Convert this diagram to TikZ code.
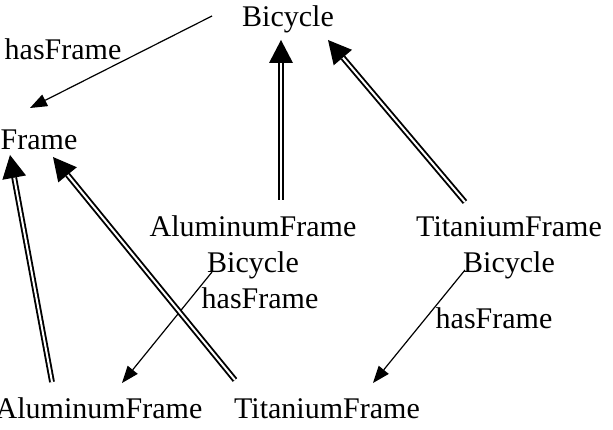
\documentclass[tikz,border=0pt]{standalone}
\usepackage{fontspec}
\setmainfont{Liberation Serif}
\usetikzlibrary{arrows.meta}
\begin{document}
\begin{tikzpicture}[x=1pt,y=1pt,
  lbl/.style={font=\fontsize{30}{36}\selectfont, inner sep=0pt, anchor=base, align=center},
  isa/.style={draw, line width=1.9pt, double, double distance=2pt,
    -{Triangle[length=23pt,width=24pt,line width=0pt]}},
  rel/.style={draw, line width=1.2pt, -{Triangle[length=17pt,width=13pt,line width=0pt]}}]
\useasboundingbox (0,0) rectangle (613,429);
\node[lbl] (b)   at (288,402) {Bicycle};
\node[lbl] (hf1) at (63,369)  {hasFrame};
\node[lbl] (f)   at (39,279)  {Frame};
\node[lbl] (afb) at (253,157) {AluminumFrame\\Bicycle};
\node[lbl] (tfb) at (509,157) {TitaniumFrame\\Bicycle};
\node[lbl] (hf2) at (260,121) {hasFrame};
\node[lbl] (hf3) at (494,101) {hasFrame};
\node[lbl] (af)  at (99,11)   {AluminumFrame};
\node[lbl] (tf)  at (327,11)  {TitaniumFrame};
% hasFrame relations
\draw[rel] ([shift={(-76,11)}]b.base) -- ([shift={(-9,42)}]f.base);
\draw[rel] ([shift={(-41,0)}]afb.base) -- ([shift={(23,35)}]af.base);
\draw[rel] ([shift={(-44,2)}]tfb.base) -- ([shift={(46,35)}]tf.base);
% subclass relations
\draw[isa] ([shift={(28,72)}]afb.base) -- ([shift={(-7,-13)}]b.base);
\draw[isa] ([shift={(-44,70)}]tfb.base) -- ([shift={(40,-13)}]b.base);
\draw[isa] ([shift={(-47,36)}]af.base) -- ([shift={(-29,-5)}]f.base);
\draw[isa] ([shift={(-92,38)}]tf.base) -- ([shift={(14,-7)}]f.base);
\end{tikzpicture}
\end{document}
